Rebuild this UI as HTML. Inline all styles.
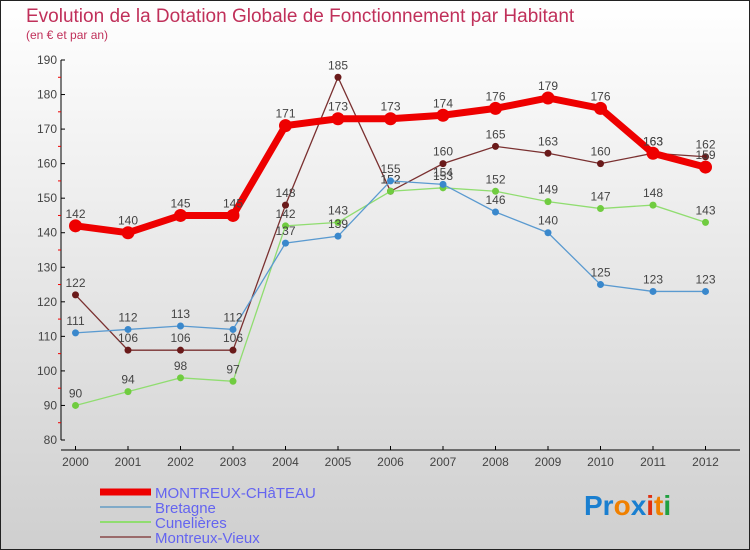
<!DOCTYPE html>
<html><head><meta charset="utf-8"><style>
body{margin:0}
#c{width:750px;height:550px;position:relative;box-sizing:border-box;border:1px solid #222;background:linear-gradient(#fff,#cfcfcf);font-family:"Liberation Sans",sans-serif;overflow:hidden}
</style></head><body>
<div id="c">
<svg id="s" width="750" height="550" style="position:absolute;left:-1px;top:-1px">
<text x="26" y="22" font-size="19" fill="#c0305a">Evolution de la Dotation Globale de Fonctionnement par Habitant</text>
<text x="26" y="39" font-size="12" fill="#c0305a">(en € et par an)</text>
<g id="ax"></g><g id="ln"></g><g id="lg"></g>
<text x="584" y="515" font-size="28" font-weight="bold"><tspan fill="#1a7fd0">Pr</tspan><tspan fill="#f08000">o</tspan><tspan fill="#1a7fd0">x</tspan><tspan fill="#e03010">i</tspan><tspan fill="#f08000">t</tspan><tspan fill="#20a040">i</tspan></text>
</svg></div>
<script>
const years=[2000,2001,2002,2003,2004,2005,2006,2007,2008,2009,2010,2011,2012];
const montreux=[142,140,145,145,171,173,173,174,176,179,176,163,159];
const bretagne=[111,112,113,112,137,139,155,154,146,140,125,123,123];
const cunelieres=[90,94,98,97,142,143,152,153,152,149,147,148,143];
const vieux=[122,106,106,106,148,185,152,160,165,163,160,163,162];
const yTicks=[80,90,100,110,120,130,140,150,160,170,180,190];
const NS='http://www.w3.org/2000/svg';
const X=i=>75.5+i*52.5, Y=v=>60+(190-v)*3.4545;
function mk(p,t,a){const e=document.createElementNS(NS,t);for(const k in a)e.setAttribute(k,a[k]);p.appendChild(e);return e;}
const ax=document.getElementById('ax');
let e=mk(ax,'line',{x1:61,y1:60,x2:61,y2:440,stroke:'#000'});

e=mk(ax,'line',{x1:61,y1:450,x2:740,y2:450,stroke:'#000'});

yTicks.forEach(v=>{mk(ax,'line',{x1:61,y1:Y(v),x2:65,y2:Y(v),stroke:'#000'});
 if(v<190)mk(ax,'line',{x1:58,y1:Y(v+5),x2:61,y2:Y(v+5),stroke:'#e00'});
 const t=mk(ax,'text',{x:57,y:Y(v)+4,'font-size':12,fill:'#444','text-anchor':'end'});t.textContent=v;
 });
years.forEach((y,i)=>{mk(ax,'line',{x1:X(i),y1:446,x2:X(i),y2:450,stroke:'#000'});
 const t=mk(ax,'text',{x:X(i),y:466,'font-size':12,fill:'#444','text-anchor':'middle'});t.textContent=y;
 });
const series=[
 {d:vieux,c:'#7a3030',f:'#6a1a1a',w:1.3,r:3.5,n:'montreux-vieux'},
 {d:cunelieres,c:'#90dd70',f:'#70cc40',w:1.3,r:3.5,n:'cunelieres'},
 {d:bretagne,c:'#5a9ad0',f:'#3a88cc',w:1.3,r:3.5,n:'bretagne'},
 {d:montreux,c:'#ee0000',f:'#ee0000',w:7,r:6.5,n:'montreux-chateau'}];
const ln=document.getElementById('ln');
series.forEach(s=>{
 const p=mk(ln,'polyline',{points:s.d.map((v,i)=>X(i)+','+Y(v)).join(' '),fill:'none',stroke:s.c,'stroke-width':s.w});
 
 s.d.forEach((v,i)=>{const c=mk(ln,'circle',{cx:X(i),cy:Y(v),r:s.r,fill:s.f});
  
  const t=mk(ln,'text',{x:X(i),y:Y(v)-8,'font-size':12,fill:'#444','text-anchor':'middle'});t.textContent=v;
  });
});
const lg=document.getElementById('lg');
[['MONTREUX-CHâTEAU','#ee0000',7],['Bretagne','#80aac8',2],['Cunelières','#90dd70',2],['Montreux-Vieux','#9a6a6a',2]].forEach((l,i)=>{
 const y=492+i*15;
 const r=mk(lg,'line',{x1:100,y1:y,x2:151,y2:y,stroke:l[1],'stroke-width':l[2]});
 
 const t=mk(lg,'text',{x:155,y:y+6,'font-size':15,fill:'#6464f0'});t.textContent=l[0];
 });
</script></body></html>
